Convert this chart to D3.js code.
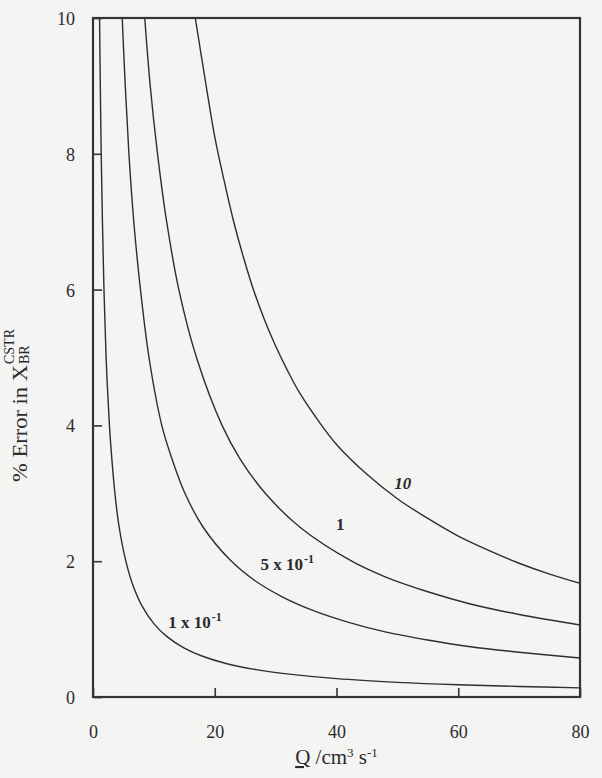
<!DOCTYPE html>
<html>
<head>
<meta charset="utf-8">
<script src="https://cdn.jsdelivr.net/npm/d3@7"></script>
<style>
  html, body { margin: 0; padding: 0; background: #f4f4f3; }
  svg { display: block; }
  text { font-family: "Liberation Serif", "DejaVu Serif", serif; fill: #2b2b2b; }
</style>
</head>
<body>
<div id="chart"></div>
<script>
// values: % error in X_BR^CSTR vs flow rate Q
const qTicks = [0, 20, 40, 60, 80];
const errTicks = [0, 2, 4, 6, 8, 10];

const curve01 = [[1.08,10],[1.2,9.0],[1.35,8.0],[1.55,7.0],[1.8,6.0],[2.15,5.0],[2.7,4.0],
  [3.1,3.5],[3.6,3.0],[4.3,2.5],[5.4,2.0],[6.5,1.66],[8,1.35],[10,1.08],[12,0.9],[15,0.72],
  [18,0.6],[22,0.49],[27,0.4],[33,0.33],[40,0.27],[50,0.216],[60,0.18],[70,0.155],[80,0.135]];
const curve05 = [[4.8,10],[5.3,9.0],[5.9,8.0],[6.7,7.0],[7.8,6.0],[9.2,5.0],[11.3,4.0],[13.0,3.5],
  [15.1,3.0],[18.1,2.5],[22.5,2.02],[26.5,1.72],[31,1.48],[36,1.28],[42,1.1],[48,0.96],[55,0.84],
  [62,0.74],[70,0.66],[80,0.575]];
const curve1 = [[8.5,10],[9.4,9.0],[10.6,8.0],[12.1,7.0],[14.1,6.0],[17,5.0],[21.2,4.0],[24.2,3.5],
  [28.3,3.0],[34,2.5],[42.5,2.0],[48,1.77],[55,1.55],[62,1.37],[70,1.215],[80,1.06]];
const curve10 = [[16.8,10],[18.5,9.05],[20,8.25],[21.5,7.62],[23,7.04],[24.7,6.48],[26.5,5.96],
  [28.2,5.55],[30,5.17],[32,4.8],[34,4.47],[37,4.07],[40,3.72],[45,3.28],[50,2.92],[55,2.63],
  [60,2.37],[65,2.16],[70,1.97],[75,1.81],[80,1.675]];

const seriesList = [curve01, curve05, curve1, curve10];

const W = 602, H = 778;
const margin = { top: 18, right: 22, bottom: 81, left: 93 };
const width = W - margin.left - margin.right;
const height = H - margin.top - margin.bottom;

const svg = d3.select("#chart").append("svg")
  .attr("width", W)
  .attr("height", H);

svg.append("rect").attr("width", W).attr("height", H).attr("fill", "#f4f4f3");

const g = svg.append("g").attr("transform", `translate(${margin.left},${margin.top})`);

const x = d3.scaleLinear().domain([0, 80]).range([0, width]);
const y = d3.scaleLinear().domain([0, 10]).range([height, 0]);

g.append("clipPath").attr("id", "clip")
  .append("rect").attr("width", width).attr("height", height);

// curves
const line = d3.line()
  .x(d => x(d[0]))
  .y(d => y(d[1]))
  .curve(d3.curveCatmullRom.alpha(0.5));

g.append("g").attr("clip-path", "url(#clip)")
  .selectAll("path")
  .data(seriesList).enter().append("path")
  .attr("d", line)
  .attr("fill", "none")
  .attr("stroke", "#2e2e2e")
  .attr("stroke-width", 1.4);

// axes, ticks pointing inward
const xAxis = g.append("g").attr("transform", `translate(0,${height})`)
  .call(d3.axisBottom(x).tickValues(qTicks).tickSizeInner(-9).tickSizeOuter(0).tickPadding(28));
const yAxis = g.append("g")
  .call(d3.axisLeft(y).tickValues(errTicks).tickSizeInner(-9).tickSizeOuter(0).tickPadding(18));

[xAxis, yAxis].forEach(a => {
  a.select(".domain").remove();
  a.selectAll(".tick line").attr("stroke", "#333").attr("stroke-width", 1.6);
  a.selectAll(".tick text")
    .style("font-family", "'Liberation Serif', serif")
    .style("font-size", "18px")
    .attr("fill", "#3a3a3a");
});
yAxis.selectAll(".tick text").attr("dy", "0.36em");

// frame
g.append("rect")
  .attr("width", width).attr("height", height)
  .attr("fill", "none")
  .attr("stroke", "#333")
  .attr("stroke-width", 2.2);

// curve labels
const labels = [
  { q: 16.75, v: 1.02, main: "1 x 10", sup: "-1", italic: false },
  { q: 31.9, v: 1.87, main: "5 x 10", sup: "-1", italic: false },
  { q: 40.6, v: 2.46, main: "1", sup: "", italic: false },
  { q: 50.9, v: 3.06, main: "10", sup: "", italic: true }
];

labels.forEach(l => {
  const t = g.append("text")
    .attr("x", x(l.q))
    .attr("y", y(l.v))
    .attr("text-anchor", "middle")
    .style("font-size", "17px")
    .style("font-weight", "bold")
    .style("font-style", l.italic ? "italic" : "normal")
    .attr("fill", "#333");
  t.append("tspan").text(l.main);
  if (l.sup) {
    t.append("tspan").attr("dx", 1).attr("dy", -7).style("font-size", "12px").text(l.sup);
  }
});

// x axis title
const xt = svg.append("text")
  .attr("x", margin.left + x(40))
  .attr("y", 764)
  .attr("text-anchor", "middle")
  .style("font-size", "21px")
  .attr("fill", "#2b2b2b");
xt.append("tspan").style("text-decoration", "underline").text("Q");
xt.append("tspan").text(" /cm");
xt.append("tspan").attr("dy", -7).style("font-size", "13px").text("3");
xt.append("tspan").attr("dy", 7).text(" s");
xt.append("tspan").attr("dy", -7).style("font-size", "13px").text("-1");

// y axis title, rotated, with stacked super/subscript
const yt = svg.append("g").attr("transform", "translate(27,482) rotate(-90)");
yt.append("text")
  .attr("x", 0).attr("y", 0)
  .style("font-size", "22px")
  .attr("textLength", 117)
  .attr("lengthAdjust", "spacingAndGlyphs")
  .attr("fill", "#2b2b2b")
  .text("% Error in  X");
const endX = 118;
yt.append("text")
  .attr("x", endX).attr("y", -13)
  .style("font-size", "14px")
  .text("CSTR");
yt.append("text")
  .attr("x", endX).attr("y", 2)
  .style("font-size", "14px")
  .text("BR");
</script>
</body>
</html>
